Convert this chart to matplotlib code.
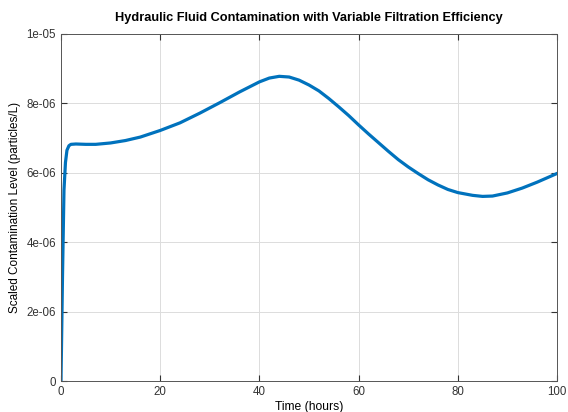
import matplotlib
matplotlib.use("Agg")
import matplotlib.pyplot as plt

plt.rcParams["font.family"] = ["Liberation Sans", "DejaVu Sans"]

# values (time in hours, contamination scaled)
t = [0, 0.3, 0.6, 0.9, 1.2, 1.6, 2, 3, 5, 7, 10, 13, 16, 20, 24, 28, 32, 36,
     40, 42, 44, 46, 48, 50, 52, 54, 56, 58, 60, 62, 64, 66, 68, 70, 72, 74,
     76, 78, 80, 83, 85, 87, 90, 93, 96, 100]
level = [0, 3.0, 5.5, 6.3, 6.65, 6.78, 6.82, 6.83, 6.82, 6.82, 6.86, 6.93,
         7.03, 7.22, 7.44, 7.72, 8.02, 8.33, 8.62, 8.73, 8.78, 8.76, 8.67,
         8.53, 8.36, 8.14, 7.90, 7.65, 7.38, 7.12, 6.87, 6.62, 6.38, 6.17,
         5.98, 5.80, 5.65, 5.52, 5.43, 5.35, 5.32, 5.33, 5.42, 5.56, 5.73,
         5.98]
level = [v * 1e-6 for v in level]

xticks = [0, 20, 40, 60, 80, 100]
yticks = [0, 2e-6, 4e-6, 6e-6, 8e-6, 1e-5]
ytick_labels = ["0", "2e-06", "4e-06", "6e-06", "8e-06", "1e-05"]

fig = plt.figure(figsize=(5.68, 4.12), dpi=100)
ax = fig.add_axes([0.1074, 0.0752, 0.8732, 0.8423])

ax.plot(t, level, color="#0072BD", linewidth=2.3)

ax.set_xlim(0, 100)
ax.set_ylim(0, 1e-5)
ax.set_xticks(xticks)
ax.set_yticks(yticks)
ax.set_yticklabels(ytick_labels)
ax.grid(True, color="#dcdcdc", linewidth=0.7)
ax.tick_params(direction="in", top=True, right=True, length=4,
               labelsize=8.3, colors="#333333", width=0.8)
for s in ax.spines.values():
    s.set_color("#555555")
    s.set_linewidth(0.7)

ax.set_title("Hydraulic Fluid Contamination with Variable Filtration Efficiency",
             fontsize=9.2, fontweight="bold", pad=9)
ax.set_xlabel("Time (hours)", fontsize=8.7, labelpad=2)
ax.set_ylabel("Scaled Contamination Level (particles/L)", fontsize=8.5)

fig.savefig("out.png", dpi=100)
